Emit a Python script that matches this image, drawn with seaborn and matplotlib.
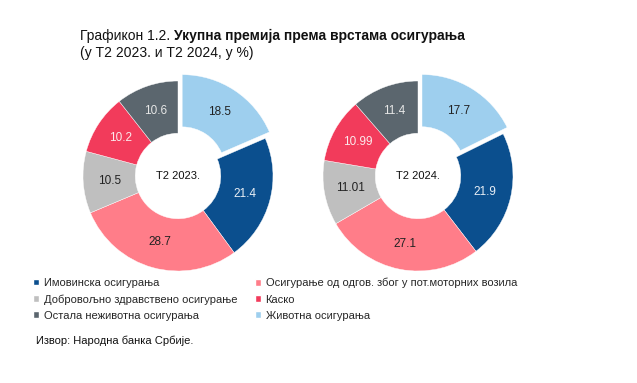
import matplotlib
matplotlib.use("Agg")
import matplotlib.pyplot as plt
from matplotlib.patches import Patch
import numpy as np
import seaborn as sns

# data, clockwise from the top
categories = [
    "Животна осигурања",
    "Имовинска осигурања",
    "Осигурање од одгов. због у пот.моторних возила",
    "Добровољно здравствено осигурање",
    "Каско",
    "Остала неживотна осигурања",
]
values_2023 = [18.5, 21.4, 28.7, 10.5, 10.2, 10.6]
values_2024 = [17.7, 21.9, 27.1, 11.01, 10.99, 11.4]
labels_2023 = ["18.5", "21.4", "28.7", "10.5", "10.2", "10.6"]
labels_2024 = ["17.7", "21.9", "27.1", "11.01", "10.99", "11.4"]
periods = ["T2 2023.", "T2 2024."]

colors = sns.color_palette(["#9ecfee", "#0b4f8e", "#ff7d89", "#bfbfbf", "#f23b5b", "#5b666e"])
text_colors = ["#222222", "#e8eef5", "#222222", "#222222", "#fbe9ec", "#e6e6e6"]

sns.set_theme(style="white")
plt.rcParams["font.family"] = ["Liberation Sans", "DejaVu Sans"]

fig = plt.figure(figsize=(6.37, 3.83), dpi=100)

W, H = 637, 383
R = 95  # outer radius in px
half = 1.2 * R


def donut(cx, cy, vals, labs, period):
    ax = fig.add_axes([(cx - half) / W, (H - cy - half) / H, 2 * half / W, 2 * half / H])
    wedges, _ = ax.pie(vals, colors=colors, startangle=90, counterclock=False,
                       explode=[0.08, 0, 0, 0, 0, 0], radius=1.0,
                       wedgeprops=dict(width=0.55, edgecolor="white", linewidth=0.3))
    for w, lab, tc in zip(wedges, labs, text_colors):
        ang = np.deg2rad((w.theta1 + w.theta2) / 2)
        r = 0.725
        x = w.center[0] + r * np.cos(ang)
        y = w.center[1] + r * np.sin(ang)
        ax.text(x, y, lab, ha="center", va="center", fontsize=8.5, color=tc)
    ax.text(0, 0, period, ha="center", va="center", fontsize=8, color="#111111")
    ax.set_xlim(-1.2, 1.2)
    ax.set_ylim(-1.2, 1.2)
    ax.set_aspect("equal")
    ax.axis("off")


donut(178, 176, values_2023, labels_2023, periods[0])
donut(418, 176, values_2024, labels_2024, periods[1])

# title
t1 = fig.text(80 / W, 1 - 36 / H, "Графикон 1.2. ", fontsize=10, va="center", color="#111111")
fig.canvas.draw()
bb = t1.get_window_extent()
fig.text(bb.x1 / W, 1 - 36 / H, "Укупна премија према врстама осигурања", fontsize=10,
         fontweight="bold", va="center", color="#111111")
fig.text(80 / W, 1 - 53 / H, "(у Т2 2023. и Т2 2024, у %)", fontsize=10, va="center", color="#111111")

# legend, two columns
order_left = [1, 3, 5]
order_right = [2, 4, 0]
for idx, x0 in [(order_left, 33), (order_right, 255)]:
    handles = [Patch(facecolor=colors[i], label=categories[i]) for i in idx]
    fig.legend(handles=handles, loc="upper left", bbox_to_anchor=(x0 / W, 1 - 278 / H),
               frameon=False, fontsize=8, handlelength=0.55, handleheight=0.55,
               handletextpad=0.4, labelspacing=0.55, borderaxespad=0, borderpad=0)

fig.text(36 / W, 1 - 341 / H, "Извор: Народна банка Србије.", fontsize=8, va="center", color="#111111")

fig.savefig("out.png", dpi=100)
